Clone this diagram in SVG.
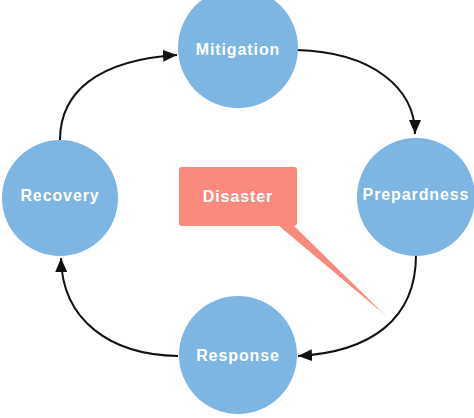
<svg xmlns="http://www.w3.org/2000/svg" width="474" height="418" viewBox="0 0 474 418">
  <style>
    .phase { fill: #7db5e3; }
    .label { font-family: "Liberation Sans", Arial, sans-serif; font-weight: bold; font-size: 16px; letter-spacing: 0.9px; fill: #ffffff; text-anchor: middle; dominant-baseline: central; }
    .flow { fill: none; stroke: #111111; stroke-width: 2; marker-end: url(#head); }
    .callout { fill: #fa8a7e; }
  </style>
  <defs>
    <marker id="head" markerUnits="userSpaceOnUse" markerWidth="16" markerHeight="12" refX="14" refY="6" orient="auto">
      <path d="M0,0 L14,6 L0,12 Z" fill="#111111"/>
    </marker>
  </defs>
  <rect width="474" height="418" fill="#ffffff"/>

  <!-- cycle arrows -->
  <g id="connectors">
    <path class="flow" d="M60,140 C60,92 98,60 177,55"/>
    <path class="flow" d="M297,50 C372,52 415,88 415,134"/>
    <path class="flow" d="M416,255 C416,320 370,352 298,356"/>
    <path class="flow" d="M178,356 C110,355 62,320 61,258"/>
  </g>

  <g id="mitigation">
    <circle class="phase" cx="238" cy="48" r="60"/>
    <text class="label" x="238" y="49">Mitigation</text>
  </g>
  <g id="prepardness">
    <circle class="phase" cx="416" cy="197" r="59"/>
    <text class="label" x="416" y="194">Prepardness</text>
  </g>
  <g id="response">
    <circle class="phase" cx="238" cy="355" r="59"/>
    <text class="label" x="238" y="355">Response</text>
  </g>
  <g id="recovery">
    <circle class="phase" cx="60" cy="198" r="58"/>
    <text class="label" x="60" y="195">Recovery</text>
  </g>

  <!-- callout box with pointer tail -->
  <g id="disaster">
    <path class="callout" d="M278,225 L385,315 L293,225 Z"/>
    <rect class="callout" x="179" y="167" width="118" height="59" rx="3"/>
    <text class="label" x="238" y="196">Disaster</text>
  </g>
</svg>
